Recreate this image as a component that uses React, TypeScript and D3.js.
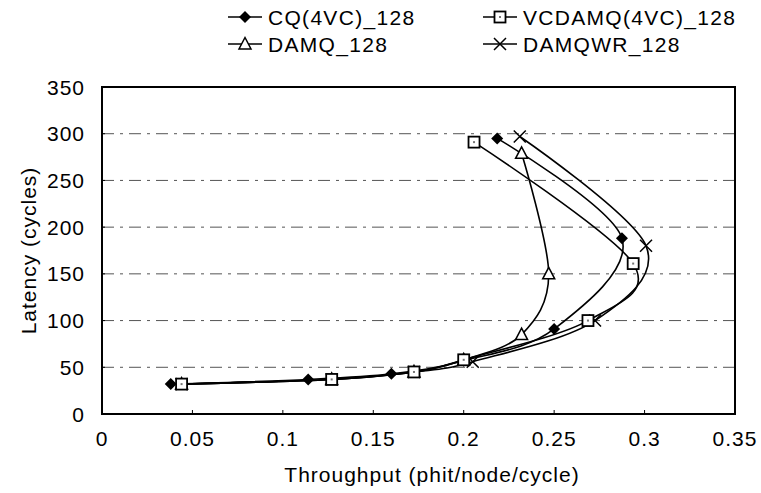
import React from 'react';
import * as d3 from 'd3';

// throughput (phit/node/cycle) and latency (cycles)
const cqX = [0.038, 0.114, 0.16, 0.2, 0.25, 0.2875, 0.2185];
const cqY = [32, 37, 43, 57, 91, 188, 295];
const vcX = [0.044, 0.127, 0.1725, 0.2, 0.2687, 0.2937, 0.2057];
const vcY = [32, 37, 45, 58, 100, 161, 291];
const damqX = [0.044, 0.127, 0.1725, 0.2, 0.232, 0.247, 0.232];
const damqY = [32, 37, 45, 58, 85, 150, 279];
const wrX = [0.044, 0.127, 0.1725, 0.205, 0.2726, 0.3008, 0.231];
const wrY = [32, 37, 45, 56, 100, 180, 297];

const xTicks = [0, 0.05, 0.1, 0.15, 0.2, 0.25, 0.3, 0.35];
const yTicks = [0, 50, 100, 150, 200, 250, 300, 350];

const series = [
  { name: 'CQ(4VC)_128', xs: cqX, ys: cqY, marker: 'diamond', z: 2 },
  { name: 'VCDAMQ(4VC)_128', xs: vcX, ys: vcY, marker: 'square', z: 3 },
  { name: 'DAMQ_128', xs: damqX, ys: damqY, marker: 'triangle', z: 0 },
  { name: 'DAMQWR_128', xs: wrX, ys: wrY, marker: 'cross', z: 1 },
];

const W = 761;
const H = 493;
const left = 102;
const right = 735;
const top = 87;
const bottom = 414;
const font = '"Liberation Sans", Arial, sans-serif';

const Marker = ({ type, x, y }: { type: string; x: number; y: number }) => {
  if (type === 'diamond') {
    return <path d={`M${x},${y - 6}L${x + 6},${y}L${x},${y + 6}L${x - 6},${y}Z`} fill="#000" />;
  }
  if (type === 'square') {
    return (
      <g>
        <rect x={x - 5.5} y={y - 5.5} width={11} height={11} fill="#fff" stroke="#000" strokeWidth={1.8} />
        <rect x={x - 1} y={y - 1} width={2} height={2} fill="#777" />
      </g>
    );
  }
  if (type === 'triangle') {
    return <path d={`M${x},${y - 6.5}L${x + 6},${y + 5}L${x - 6},${y + 5}Z`} fill="#fff" stroke="#000" strokeWidth={1.5} />;
  }
  return (
    <path d={`M${x - 6},${y - 6}L${x + 6},${y + 6}M${x + 6},${y - 6}L${x - 6},${y + 6}`} stroke="#000" strokeWidth={1.5} />
  );
};

export default function App() {
  const x = d3.scaleLinear().domain([0, 0.35]).range([left, right]);
  const y = d3.scaleLinear().domain([0, 350]).range([bottom, top]);

  const line = d3
    .line<[number, number]>()
    .x(d => x(d[0]))
    .y(d => y(d[1]))
    .curve(d3.curveCardinal.tension(0));

  const legendPos = [
    { lx: 228, ly: 17 },
    { lx: 483, ly: 17 },
    { lx: 228, ly: 44 },
    { lx: 483, ly: 44 },
  ];

  const byZ = [...series].sort((a, b) => a.z - b.z);

  return (
    <svg width={W} height={H} style={{ display: 'block', position: 'absolute', left: 0, top: 0 }} fontFamily={font}>
      <rect width={W} height={H} fill="#fff" />

      {/* gridlines */}
      {yTicks.filter(t => t > 0 && t < 350).map(t => (
        <line key={t} x1={left} x2={right} y1={y(t)} y2={y(t)} stroke="#555" strokeWidth={1} strokeDasharray="12,6,3,6" />
      ))}

      {/* tick marks */}
      {xTicks.slice(1, -1).map(t => (
        <line key={t} x1={x(t)} x2={x(t)} y1={bottom} y2={bottom - 4} stroke="#000" strokeWidth={1} />
      ))}
      {yTicks.slice(1, -1).map(t => (
        <line key={t} x1={left} x2={left + 3} y1={y(t)} y2={y(t)} stroke="#000" strokeWidth={1} />
      ))}

      {/* series */}
      {series.map(s => {
        const pts = s.xs.map((v, i) => [v, s.ys[i]] as [number, number]);
        return <path key={s.name} d={line(pts) || ''} fill="none" stroke="#000" strokeWidth={1.6} />;
      })}
      {byZ.map(s => (
        <g key={s.name + 'm'}>
          {s.xs.map((v, i) => (
            <Marker key={i} type={s.marker} x={x(v)} y={y(s.ys[i])} />
          ))}
        </g>
      ))}

      {/* frame */}
      <rect x={left} y={top} width={right - left} height={bottom - top} fill="none" stroke="#000" strokeWidth={2} />

      {/* axis labels */}
      {xTicks.map(t => (
        <text key={t} x={x(t)} y={446} textAnchor="middle" fontSize={21} letterSpacing={1}>
          {String(t)}
        </text>
      ))}
      {yTicks.map(t => (
        <text key={t} x={85} y={y(t) + 7.5} textAnchor="end" fontSize={21} letterSpacing={1}>
          {t}
        </text>
      ))}
      <text x={432} y={482} textAnchor="middle" fontSize={21} letterSpacing={1}>
        Throughput (phit/node/cycle)
      </text>
      <text transform={`translate(36,${(top + bottom) / 2}) rotate(-90)`} textAnchor="middle" fontSize={21} letterSpacing={1}>
        Latency (cycles)
      </text>

      {/* legend */}
      {series.map((s, i) => {
        const p = legendPos[i];
        return (
          <g key={s.name + 'l'}>
            <line x1={p.lx} x2={p.lx + 34} y1={p.ly} y2={p.ly} stroke="#000" strokeWidth={1.6} />
            <Marker type={s.marker} x={p.lx + 17} y={p.ly} />
            <text x={p.lx + 40} y={p.ly + 7.5} fontSize={21} letterSpacing={1.3}>
              {s.name}
            </text>
          </g>
        );
      })}
    </svg>
  );
}
